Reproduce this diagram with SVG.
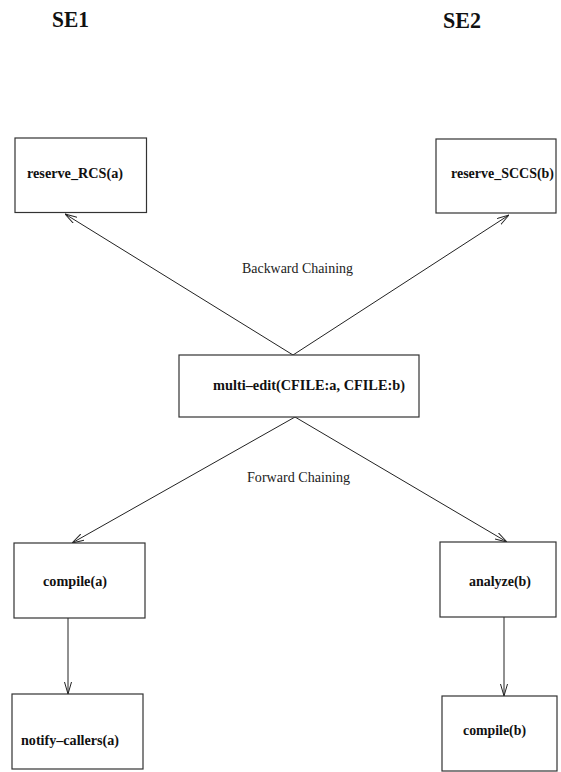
<svg xmlns="http://www.w3.org/2000/svg" width="561" height="772" viewBox="0 0 561 772">
  <defs>
    <style>
      .box { fill: #ffffff; stroke: #333333; stroke-width: 1.2; }
      .lbl { font-family: "Liberation Serif", "Times New Roman", serif; font-weight: bold; font-size: 14.2px; fill: #111111; }
      .head { font-family: "Liberation Serif", "Times New Roman", serif; font-weight: bold; font-size: 23px; fill: #111111; }
      .note { font-family: "Liberation Serif", "Times New Roman", serif; font-size: 14px; fill: #222222; }
      .edge { stroke: #222222; stroke-width: 1; fill: none; marker-end: url(#arrow); }
    </style>
    <marker id="arrow" viewBox="0 0 12 8" refX="12" refY="4" markerWidth="12" markerHeight="8" markerUnits="userSpaceOnUse" orient="auto">
      <path d="M0,0.5 L12,4 L0,7.5" fill="none" stroke="#222222" stroke-width="1"/>
    </marker>
  </defs>

  <!-- column headings -->
  <text class="head" x="52" y="27" textLength="37" lengthAdjust="spacingAndGlyphs">SE1</text>
  <text class="head" x="443" y="28" textLength="38" lengthAdjust="spacingAndGlyphs">SE2</text>

  <!-- chaining connectors -->
  <g id="connectors">
    <line class="edge" x1="293" y1="355" x2="65" y2="214"/>
    <line class="edge" x1="293" y1="355" x2="509" y2="215"/>
    <line class="edge" x1="295" y1="417" x2="72" y2="543"/>
    <line class="edge" x1="295" y1="417" x2="507" y2="542"/>
    <line class="edge" x1="68" y1="618" x2="68" y2="694"/>
    <line class="edge" x1="504" y1="617" x2="504" y2="696"/>
    <text class="note" x="242" y="273" textLength="111" lengthAdjust="spacingAndGlyphs">Backward Chaining</text>
    <text class="note" x="247" y="482" textLength="103" lengthAdjust="spacingAndGlyphs">Forward Chaining</text>
  </g>

  <g id="reserve_RCS">
    <rect class="box" x="15" y="138" width="131.5" height="74.5"/>
    <text class="lbl" x="27" y="178" textLength="96" lengthAdjust="spacingAndGlyphs">reserve_RCS(a)</text>
  </g>

  <g id="reserve_SCCS">
    <rect class="box" x="436" y="139" width="120" height="74"/>
    <text class="lbl" x="451" y="178" textLength="103" lengthAdjust="spacingAndGlyphs">reserve_SCCS(b)</text>
  </g>

  <g id="multi_edit">
    <rect class="box" x="179" y="355" width="240" height="62"/>
    <text class="lbl" x="213" y="390" textLength="192" lengthAdjust="spacingAndGlyphs">multi–edit(CFILE:a, CFILE:b)</text>
  </g>

  <g id="compile_a">
    <rect class="box" x="14" y="543" width="131" height="75"/>
    <text class="lbl" x="43" y="586" textLength="64" lengthAdjust="spacingAndGlyphs">compile(a)</text>
  </g>

  <g id="analyze_b">
    <rect class="box" x="440" y="542" width="116" height="75"/>
    <text class="lbl" x="469" y="586" textLength="62" lengthAdjust="spacingAndGlyphs">analyze(b)</text>
  </g>

  <g id="notify_callers">
    <rect class="box" x="12" y="694" width="131" height="75"/>
    <text class="lbl" x="21" y="745" textLength="98" lengthAdjust="spacingAndGlyphs">notify–callers(a)</text>
  </g>

  <g id="compile_b">
    <rect class="box" x="442" y="696" width="115" height="75"/>
    <text class="lbl" x="463" y="735" textLength="63" lengthAdjust="spacingAndGlyphs">compile(b)</text>
  </g>
</svg>
